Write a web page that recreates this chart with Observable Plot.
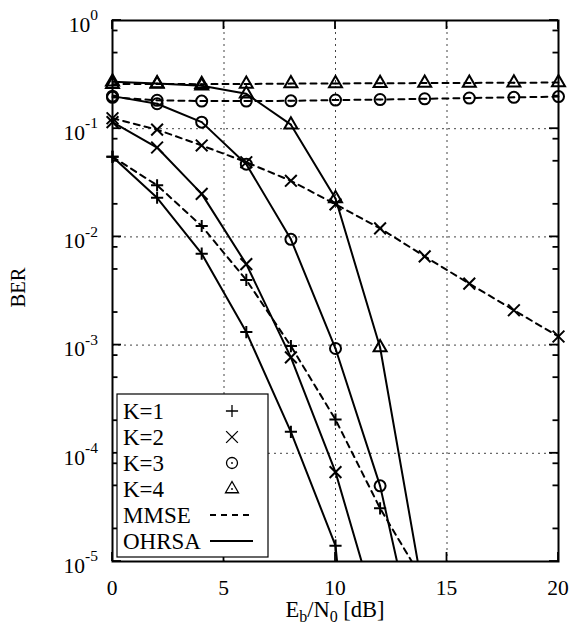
<!DOCTYPE html>
<html><head><meta charset="utf-8">
<script src="https://cdn.jsdelivr.net/npm/d3@7"></script>
<script src="https://cdn.jsdelivr.net/npm/@observablehq/plot@0.6"></script>
<style>
body{margin:0;background:#fff;}
#chart svg{display:block;}
</style></head><body><div id="chart"></div>
<script>
// ---- data ----
const snr = [0, 2, 4, 6, 8, 10, 12, 14, 16, 18, 20];

const mmseK1 = [0.055, 0.030, 0.0126, 0.0040, 0.00098, 0.000205, 0.000031, 0.0000063];
const mmseK2 = [0.125, 0.098, 0.070, 0.049, 0.033, 0.020, 0.012, 0.0066, 0.0037, 0.0021, 0.0012];
const mmseK3 = [0.195, 0.183, 0.18, 0.18, 0.181, 0.184, 0.186, 0.189, 0.192, 0.195, 0.198];
const mmseK4 = [0.258, 0.259, 0.258, 0.259, 0.261, 0.262, 0.263, 0.264, 0.265, 0.266, 0.267];

const ohrsaK1 = [0.055, 0.023, 0.0070, 0.00132, 0.000158, 0.000014, 0.000000001];
const ohrsaK2 = [0.115, 0.067, 0.025, 0.0056, 0.00077, 0.000067, 0.0000026];
const ohrsaK3 = [0.200, 0.170, 0.115, 0.047, 0.0095, 0.00093, 0.00005, 0.00000072];
const ohrsaK4 = [0.272, 0.262, 0.250, 0.210, 0.109, 0.0226, 0.00095, 0.0000043];

const xTicks = [0, 5, 10, 15, 20];
const xGrid = [5, 10, 15];
const yExponents = [0, -1, -2, -3, -4, -5];
const yGrid = [1e-1, 1e-2, 1e-3, 1e-4];
const yMinorMantissas = [2, 5, 8];
const legendLabels = ["K=1", "K=2", "K=3", "K=4", "MMSE", "OHRSA"];
const xLabelParts = [["E", 0], ["b", 1], ["/N", 0], ["0", 1], [" [dB]", 0]];
const yLabel = "BER";

// ---- build table ----
const series = [
  {method: "MMSE", k: 1, ys: mmseK1}, {method: "MMSE", k: 2, ys: mmseK2},
  {method: "MMSE", k: 3, ys: mmseK3}, {method: "MMSE", k: 4, ys: mmseK4},
  {method: "OHRSA", k: 1, ys: ohrsaK1}, {method: "OHRSA", k: 2, ys: ohrsaK2},
  {method: "OHRSA", k: 3, ys: ohrsaK3}, {method: "OHRSA", k: 4, ys: ohrsaK4}
];
const rows = series.flatMap(s => s.ys.map((v, i) => ({x: snr[i], y: v, key: s.method + s.k, method: s.method, k: s.k})));
const yMin = Math.pow(10, d3.min(yExponents));
const visible = rows.filter(d => d.y >= yMin);

const FONT = "Liberation Serif";
const DASH = "6,5";
const symbolSpec = {
  1: {symbol: "plus", r: 4},
  2: {symbol: "times", r: 5.4},
  3: {symbol: "circle", r: 5.5},
  4: {symbol: "triangle2", r: 6.2}
};

function drawSymbol(g, k, cx, cy) {
  const spec = symbolSpec[k];
  if (spec.symbol === "circle") {
    g.append("circle").attr("cx", cx).attr("cy", cy).attr("r", spec.r)
      .attr("fill", "none").attr("stroke", "black").attr("stroke-width", 1.3);
  } else {
    const sym = {plus: d3.symbolPlus, times: d3.symbolTimes, triangle2: d3.symbolTriangle2}[spec.symbol];
    g.append("path").attr("d", d3.symbol(sym, Math.PI * spec.r * spec.r)())
      .attr("transform", `translate(${cx},${cy})`)
      .attr("fill", "none").attr("stroke", "black").attr("stroke-width", 1.3);
  }
  if (k === 3 || k === 4) {
    g.append("circle").attr("cx", cx).attr("cy", cy).attr("r", 0.9).attr("fill", "black");
  }
}

function decorations(index, scales, values, dims) {
  const {x, y} = scales;
  const {width, height, marginLeft, marginRight, marginTop, marginBottom} = dims;
  const L = marginLeft, R = width - marginRight, T = marginTop, B = height - marginBottom;
  const g = d3.create("svg:g").attr("font-family", FONT).attr("fill", "black");
  const tk = g.append("g").attr("stroke", "black").attr("stroke-width", 1.8);
  // y ticks
  for (const e of yExponents) {
    const py = y(Math.pow(10, e));
    tk.append("line").attr("x1", L).attr("x2", L + 9).attr("y1", py).attr("y2", py);
    tk.append("line").attr("x1", R).attr("x2", R - 9).attr("y1", py).attr("y2", py);
    if (e > d3.min(yExponents)) {
      for (const m of yMinorMantissas) {
        const v = m * Math.pow(10, e - 1);
        const pm = y(v);
        tk.append("line").attr("x1", L).attr("x2", L + 5.5).attr("y1", pm).attr("y2", pm);
        tk.append("line").attr("x1", R).attr("x2", R - 5.5).attr("y1", pm).attr("y2", pm);
      }
    }
    const t = g.append("text").attr("x", L - 14).attr("y", py + 11.7)
      .attr("text-anchor", "end").attr("font-size", 21.5);
    t.append("tspan").text("10");
    t.append("tspan").attr("dy", -11.5).attr("font-size", 15.5).text(e === 0 ? "0" : "-" + Math.abs(e));
  }
  // x ticks
  for (const v of xTicks) {
    const px = x(v);
    tk.append("line").attr("x1", px).attr("x2", px).attr("y1", B).attr("y2", B - 9);
    tk.append("line").attr("x1", px).attr("x2", px).attr("y1", T).attr("y2", T + 9);
    g.append("text").attr("x", px).attr("y", B + 34).attr("text-anchor", "middle")
      .attr("font-size", 21.5).text(String(v));
  }
  // x label
  const xl = g.append("text").attr("x", (L + R) / 2).attr("y", B + 56)
    .attr("text-anchor", "middle").attr("font-size", 22.5);
  let shifted = false;
  for (const [s, sub] of xLabelParts) {
    const ts = xl.append("tspan").text(s);
    if (sub && !shifted) { ts.attr("dy", 5).attr("font-size", 16); shifted = true; }
    else if (sub) { ts.attr("font-size", 16); }
    else if (shifted) { ts.attr("dy", -5); shifted = false; }
  }
  // y label
  g.append("text").attr("transform", `translate(25,${(T + B) / 2 - 3}) rotate(-90)`)
    .attr("text-anchor", "middle").attr("font-size", 20.5).text(yLabel);
  // legend
  const lg = g.append("g");
  const bx = L + 5, by = B - 167, bw = 151, bh = 163;
  lg.append("rect").attr("x", bx).attr("y", by).attr("width", bw).attr("height", bh)
    .attr("fill", "white").attr("stroke", "black").attr("stroke-width", 1.2);
  legendLabels.forEach((lab, i) => {
    const cy = by + 17 + i * 26;
    lg.append("text").attr("x", bx + 6).attr("y", cy + 8).attr("text-anchor", "start")
      .attr("font-size", 23).text(lab);
    const sx = bx + 115;
    if (i < 4) drawSymbol(lg, i + 1, sx, cy);
    else {
      lg.append("line").attr("x1", bx + 93).attr("x2", bx + 136).attr("y1", cy).attr("y2", cy)
        .attr("stroke", "black").attr("stroke-width", 2)
        .attr("stroke-dasharray", lab === "MMSE" ? DASH : null);
    }
  });
  return g.node();
}

const dotMarks = [1, 2, 3, 4].flatMap(k => {
  const d = visible.filter(r => r.k === k);
  const spec = symbolSpec[k];
  const m = [Plot.dot(d, {x: "x", y: "y", symbol: spec.symbol, r: spec.r, fill: "none", stroke: "black", strokeWidth: 2})];
  if (k === 3 || k === 4) m.push(Plot.dot(d, {x: "x", y: "y", r: 0.9, fill: "black", stroke: "none"}));
  return m;
});

const chart = Plot.plot({
  width: 574, height: 637,
  marginLeft: 112, marginRight: 16, marginTop: 20, marginBottom: 76,
  style: {fontFamily: FONT, background: "white"},
  x: {domain: [0, 20], axis: null},
  y: {type: "log", domain: [yMin, 1], axis: null},
  marks: [
    Plot.ruleX(xGrid, {stroke: "#444", strokeWidth: 1, strokeDasharray: "2,4"}),
    Plot.ruleY(yGrid, {stroke: "#444", strokeWidth: 1, strokeDasharray: "2,4"}),
    Plot.line(rows.filter(d => d.method === "MMSE"), {x: "x", y: "y", z: "key", stroke: "black", strokeWidth: 2, strokeDasharray: DASH, clip: true}),
    Plot.line(rows.filter(d => d.method === "OHRSA"), {x: "x", y: "y", z: "key", stroke: "black", strokeWidth: 2, clip: true}),
    ...dotMarks,
    Plot.frame({stroke: "black", strokeWidth: 2}),
    decorations
  ]
});
document.getElementById("chart").appendChild(chart);
</script></body></html>
